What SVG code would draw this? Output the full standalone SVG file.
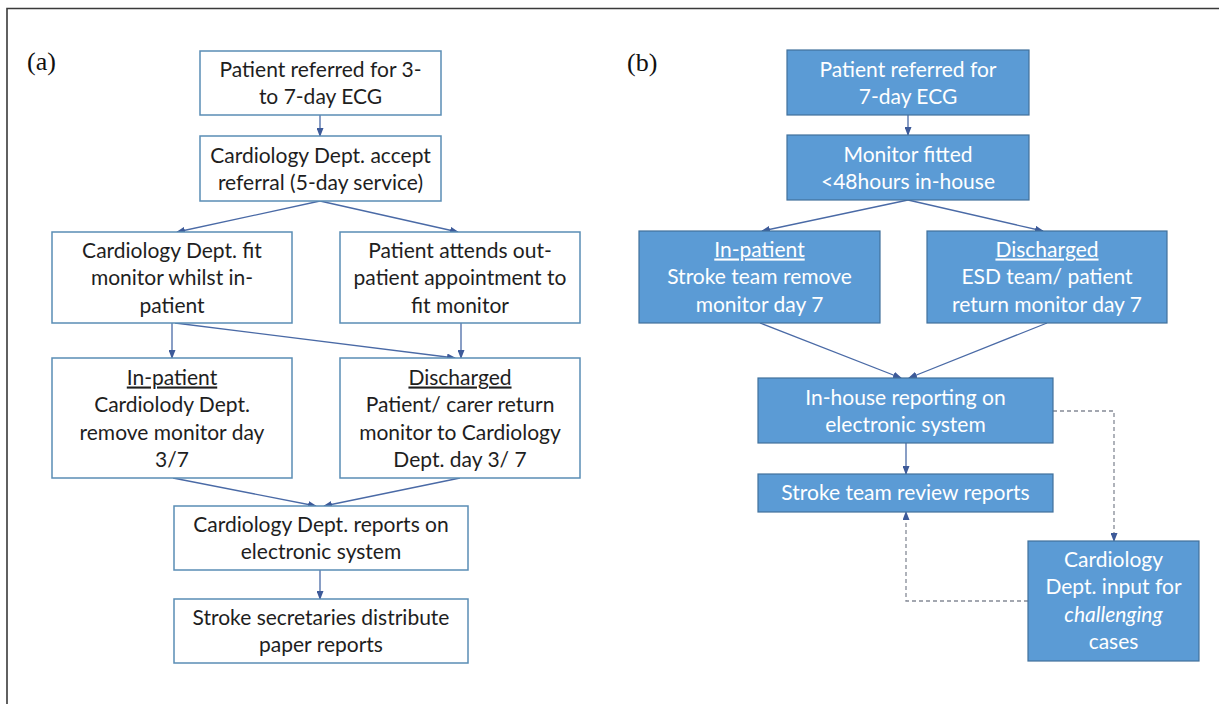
<svg xmlns="http://www.w3.org/2000/svg" width="1219" height="704" viewBox="0 0 1219 704">
<style>
.bg{fill:#ffffff}
.frame{stroke:#3a3a3a;stroke-width:1.6;fill:none}
.boxa{fill:#ffffff;stroke:#5a8db5;stroke-width:1.5}
.boxb{fill:#5b9bd5;stroke:#41719c;stroke-width:1.2}
.ta{font-family:Lato,"Liberation Sans",sans-serif;font-size:21px;fill:#1e1e1e;text-anchor:middle}
.tb{font-family:Lato,"Liberation Sans",sans-serif;font-size:21px;fill:#ffffff;text-anchor:middle}
.lbl{font-family:"Liberation Serif",serif;font-size:26px;fill:#111111}
.u{text-decoration:underline}
.it{font-style:italic}
.conn{stroke:#4a6aa6;stroke-width:1.3;fill:none;marker-end:url(#ah)}
.dash{stroke:#858a96;stroke-width:1.3;fill:none;stroke-dasharray:4 3;marker-end:url(#ah)}
</style>
<defs>
<marker id="ah" markerWidth="9" markerHeight="7" refX="8" refY="3.5" orient="auto" markerUnits="userSpaceOnUse">
<path d="M0,0 L9,3.5 L0,7 z" fill="#3d5a99"/>
</marker>
</defs>
<rect class="bg" x="0" y="0" width="1219" height="704"/>
<path class="frame" d="M7,704 L7,8.5 L1219,8.5"/>
<text class="lbl" x="27" y="70">(a)</text>
<text class="lbl" x="627" y="71">(b)</text>

<g id="connectors">
<line class="conn" x1="320" y1="115" x2="320" y2="136"/>
<line class="conn" x1="320" y1="201" x2="177" y2="232"/>
<line class="conn" x1="320" y1="201" x2="458" y2="232"/>
<line class="conn" x1="172" y1="323" x2="172" y2="358"/>
<line class="conn" x1="175" y1="323" x2="455" y2="358"/>
<line class="conn" x1="461" y1="323" x2="461" y2="358"/>
<line class="conn" x1="173" y1="478" x2="316" y2="506"/>
<line class="conn" x1="460" y1="478" x2="324" y2="506"/>
<line class="conn" x1="320" y1="570" x2="320" y2="599"/>
<line class="conn" x1="908" y1="115" x2="908" y2="135"/>
<line class="conn" x1="908" y1="200" x2="762" y2="231"/>
<line class="conn" x1="908" y1="200" x2="1043" y2="231"/>
<line class="conn" x1="760" y1="323" x2="901" y2="378"/>
<line class="conn" x1="1047" y1="323" x2="909" y2="378"/>
<line class="conn" x1="906" y1="443" x2="906" y2="474"/>
<polyline class="dash" points="1053,411 1114,411 1114,541"/>
<polyline class="dash" points="1028,601 906,601 906,512"/>
</g>

<g id="a1"><rect class="boxa" x="200" y="51" width="241" height="64"/>
<text class="ta" x="320.5" y="76.5">Patient referred for 3-</text>
<text class="ta" x="320.5" y="104">to 7-day ECG</text></g>
<g id="a2"><rect class="boxa" x="200" y="136" width="241" height="65"/>
<text class="ta" x="320.5" y="162.5">Cardiology Dept. accept</text>
<text class="ta" x="320.5" y="190">referral (5-day service)</text></g>
<g id="a3"><rect class="boxa" x="52" y="232" width="240" height="91"/>
<text class="ta" x="172" y="257.5">Cardiology Dept. fit</text>
<text class="ta" x="172" y="285">monitor whilst in-</text>
<text class="ta" x="172" y="312.5">patient</text></g>
<g id="a4"><rect class="boxa" x="340" y="232" width="240" height="91"/>
<text class="ta" x="460" y="257.5">Patient attends out-</text>
<text class="ta" x="460" y="285">patient appointment to</text>
<text class="ta" x="460" y="312.5">fit monitor</text></g>
<g id="a5"><rect class="boxa" x="52" y="358" width="240" height="120"/>
<text class="ta u" x="172" y="384.5">In-patient</text>
<text class="ta" x="172" y="412">Cardiolody Dept.</text>
<text class="ta" x="172" y="439.5">remove monitor day</text>
<text class="ta" x="172" y="467">3/7</text></g>
<g id="a6"><rect class="boxa" x="340" y="358" width="240" height="120"/>
<text class="ta u" x="460" y="384.5">Discharged</text>
<text class="ta" x="460" y="412">Patient/ carer return</text>
<text class="ta" x="460" y="439.5">monitor to Cardiology</text>
<text class="ta" x="460" y="467">Dept. day 3/ 7</text></g>
<g id="a7"><rect class="boxa" x="174" y="506" width="294" height="64"/>
<text class="ta" x="321" y="531.5">Cardiology Dept. reports on</text>
<text class="ta" x="321" y="559">electronic system</text></g>
<g id="a8"><rect class="boxa" x="174" y="599" width="294" height="64"/>
<text class="ta" x="321" y="624.5">Stroke secretaries distribute</text>
<text class="ta" x="321" y="652">paper reports</text></g>

<g id="b1"><rect class="boxb" x="787" y="50" width="242" height="65"/>
<text class="tb" x="908" y="76.5">Patient referred for</text>
<text class="tb" x="908" y="104">7-day ECG</text></g>
<g id="b2"><rect class="boxb" x="787" y="135" width="242" height="65"/>
<text class="tb" x="908" y="161.5">Monitor fitted</text>
<text class="tb" x="908" y="189">&lt;48hours in-house</text></g>
<g id="b3"><rect class="boxb" x="639" y="231" width="241" height="92"/>
<text class="tb u" x="759.5" y="256.5">In-patient</text>
<text class="tb" x="759.5" y="284">Stroke team remove</text>
<text class="tb" x="759.5" y="311.5">monitor day 7</text></g>
<g id="b4"><rect class="boxb" x="927" y="231" width="240" height="92"/>
<text class="tb u" x="1047" y="256.5">Discharged</text>
<text class="tb" x="1047" y="284">ESD team/ patient</text>
<text class="tb" x="1047" y="311.5">return monitor day 7</text></g>
<g id="b5"><rect class="boxb" x="758" y="378" width="295" height="65"/>
<text class="tb" x="905.5" y="404.5">In-house reporting on</text>
<text class="tb" x="905.5" y="432">electronic system</text></g>
<g id="b6"><rect class="boxb" x="758" y="474" width="295" height="38"/>
<text class="tb" x="905.5" y="499.5">Stroke team review reports</text></g>
<g id="b7"><rect class="boxb" x="1028" y="541" width="171" height="120"/>
<text class="tb" x="1113.5" y="566.5">Cardiology</text>
<text class="tb" x="1113.5" y="594">Dept. input for</text>
<text class="tb it" x="1113.5" y="621.5">challenging</text>
<text class="tb" x="1113.5" y="649">cases</text></g>
</svg>
